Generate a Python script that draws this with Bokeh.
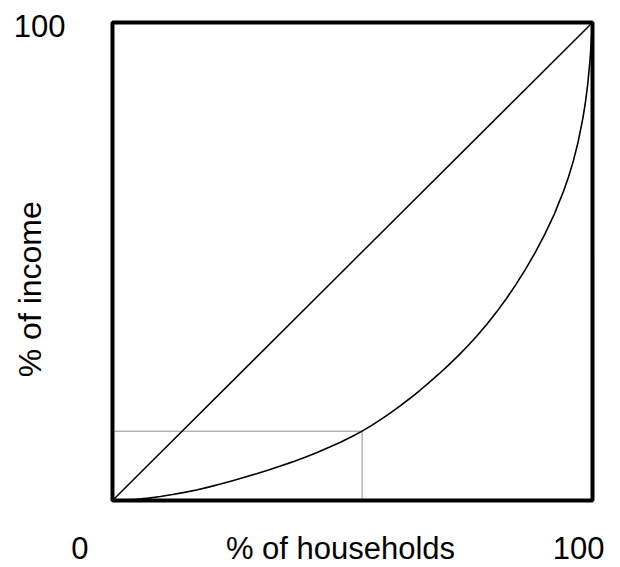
import math
from bokeh.plotting import figure
from bokeh.models import Range1d
from bokeh.core.properties import value
from bokeh.embed import file_html
from bokeh.resources import INLINE

# Lorenz curve data (percent of households vs percent of income)
households = [0, 2.5, 5, 7.5, 10, 12.5, 15, 17.5, 20, 22.5, 25, 27.5, 30, 32.5, 35, 37.5, 40, 42.5, 45, 47.5,
              50, 52, 54, 56, 58, 60, 62, 64, 66, 68, 70, 72, 74, 76, 78, 80, 82, 84, 86, 88, 90, 92, 94, 95,
              96, 97, 98, 98.5, 99, 99.5, 100]
income = [0, 0.1, 0.25, 0.5, 0.85, 1.25, 1.7, 2.2, 2.8, 3.45, 4.15, 4.85, 5.6, 6.38, 7.2, 8.08, 9.0, 10.0, 11.08, 12.2,
          13.43, 14.51, 15.71, 17.01, 18.39, 19.85, 21.39, 23.01, 24.71, 26.47, 28.31, 30.25, 32.31, 34.51, 36.87,
          39.41, 42.15, 45.11, 48.31, 51.77, 55.57, 59.81, 64.81, 67.7, 71.0, 75.0, 80.0, 83.15, 87.0, 92.3, 100]

# equality line
equal_x = [0, 100]
equal_y = [0, 100]

# highlighted point on the curve
mark_x = 52
mark_y = 14.5

# labels
x_ticks = ["0", "100"]
y_ticks = ["100"]
x_title = "% of households"
y_title = "% of income"

FONT = "Liberation Sans"
FS = "31px"

p = figure(width=620, height=567, output_backend="svg", toolbar_location=None,
           x_range=Range1d(-112 / 4.8, 508 / 4.8), y_range=Range1d(-67 / 4.78, 500 / 4.78),
           min_border=0, min_border_left=0, min_border_right=0, min_border_top=0, min_border_bottom=0)
p.xaxis.visible = False
p.yaxis.visible = False
p.grid.visible = False
p.outline_line_color = None
p.background_fill_color = "white"
p.border_fill_color = "white"

# box
p.quad(left=[0], right=[100], bottom=[0], top=[100], fill_color=None, line_color="black", line_width=4)

p.line(equal_x, equal_y, line_color="black", line_width=1.5)
p.line(households, income, line_color="black", line_width=1.6)
p.line([0, mark_x], [mark_y, mark_y], line_color="#222222", line_width=1, line_dash="1 1")
p.line([mark_x, mark_x], [0, mark_y], line_color="#222222", line_width=1, line_dash="1 1")

def lab(x, y, t, angle=0.0, size=FS):
    p.text(x=[x], y=[y], text=[t], text_font=value(FONT), text_font_size=size,
           text_align="center", text_baseline="middle", angle=angle, text_color="black")

lab(-15.2, 99.2, y_ticks[0])
lab(-6.8, -10.0, x_ticks[0])
lab(97.1, -10.0, x_ticks[1])
lab(47.5, -10.0, x_title)
lab(-17.1, 44.2, y_title, angle=math.pi / 2, size="32px")

open("out.html", "w").write(file_html(p, INLINE))
